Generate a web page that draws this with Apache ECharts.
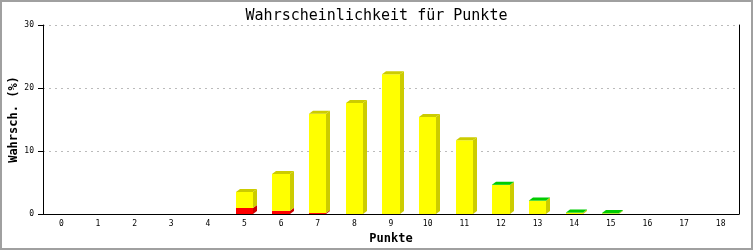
<!DOCTYPE html>
<html><head><meta charset="utf-8">
<script src="https://cdn.jsdelivr.net/npm/echarts@6/dist/echarts.min.js"></script>
<style>html,body{margin:0;padding:0;background:#fff}#c{width:753px;height:250px}</style>
</head><body><div id="c"></div>
<script>
const categories = ['0','1','2','3','4','5','6','7','8','9','10','11','12','13','14','15','16','17','18'];
const redValues    = [0,0,0,0,0,0.95,0.5,0.15,0,0,0,0,0,0,0,0,0,0,0];
const yellowValues = [0,0,0,0,0,2.55,5.85,15.75,17.6,22.2,15.4,11.7,4.6,2.1,0.2,0.1,0,0,0];
const greenValues  = [0,0,0,0,0,0,0,0,0,0,0,0,0.05,0.05,0.05,0.05,0,0,0];
const yTicks = [0,10,20,30];

const segColors = [
  {front:'#ff0000', dark:'#cc0000'},
  {front:'#ffff00', dark:'#cccc00'},
  {front:'#00cc00', dark:'#00cc00'}
];
const data = categories.map((c,i)=>[i, redValues[i], yellowValues[i], greenValues[i]]);
const DX = 4, DY = 3;

function renderItem(params, api){
  const x = api.value(0);
  const w = api.size([1,0])[0]*0.47;
  const children = [];
  let cum = 0;
  let lastIdx = -1;
  for (let s=1;s<=3;s++) if (api.value(s)>0) lastIdx = s;
  const tops = [];
  for (let s=1;s<=3;s++){
    const v = api.value(s);
    if (!(v>0)) continue;
    const p0 = api.coord([x, cum]);
    const p1 = api.coord([x, cum+v]);
    cum += v;
    const xl = Math.round(p0[0]-w/2), xr = Math.round(p0[0]+w/2);
    const yb = p0[1], yt = p1[1];
    const col = segColors[s-1];
    children.push({type:'polygon', shape:{points:[[xr,yt],[xr+DX,yt-DY],[xr+DX,yb-DY],[xr,yb]]}, style:{fill:col.dark}});
    children.push({type:'rect', shape:{x:xl,y:yt,width:xr-xl,height:Math.max(yb-yt,0)}, style:{fill:col.front}});
    if (s===lastIdx){
      tops.push({type:'polygon', shape:{points:[[xl,yt],[xl+DX,yt-DY],[xr+DX,yt-DY],[xr,yt]]}, style:{fill:col.dark}});
    }
  }
  return {type:'group', children: children.concat(tops)};
}

const chart = echarts.init(document.getElementById('c'), null, {renderer:'canvas'});
const mono = 'DejaVu Sans Mono';
chart.setOption({
  animation:false,
  backgroundColor:'#fff',
  title:{text:'Wahrscheinlichkeit für Punkte', left:'center', top:4,
    textStyle:{fontFamily:mono, fontSize:15, fontWeight:'normal', color:'#000'}},
  grid:{left:43, right:14, top:25, bottom:36, containLabel:false, outerBoundsMode:'none'},
  xAxis:{type:'category', data:categories, boundaryGap:true,
    name:'Punkte', nameLocation:'middle', nameGap:19, nameMoveOverlap:false,
    nameTextStyle:{fontFamily:mono, fontSize:12, fontWeight:'bold', color:'#000'},
    axisLine:{lineStyle:{color:'#000', width:1}}, axisTick:{show:false},
    axisLabel:{fontFamily:mono, fontSize:8, color:'#000', margin:6, interval:0}},
  yAxis:[{type:'value', min:yTicks[0], max:yTicks[yTicks.length-1], interval:10,
    name:'Wahrsch. (%)', nameLocation:'middle', nameGap:23, nameMoveOverlap:false,
    nameTextStyle:{fontFamily:mono, fontSize:12, fontWeight:'bold', color:'#000'},
    axisLine:{show:true, lineStyle:{color:'#000'}},
    axisTick:{show:true, length:5, lineStyle:{color:'#000'}},
    axisLabel:{fontFamily:mono, fontSize:8, color:'#000', margin:9},
    splitLine:{show:true, lineStyle:{color:'#bbb', type:[2,4], width:1}}},
   {type:'value', position:'right', min:0, max:30, interval:10,
    axisLine:{show:true, lineStyle:{color:'#000'}}, axisTick:{show:false}, axisLabel:{show:false}, splitLine:{show:false}}],
  graphic:[{type:'rect', shape:{x:1,y:1,width:751,height:248}, style:{fill:null, stroke:'#a0a0a0', lineWidth:2}, silent:true}],
  series:[{type:'custom', renderItem:renderItem, data:data, encode:{x:0,y:[1,2,3]}, clip:false}]
});
</script></body></html>
